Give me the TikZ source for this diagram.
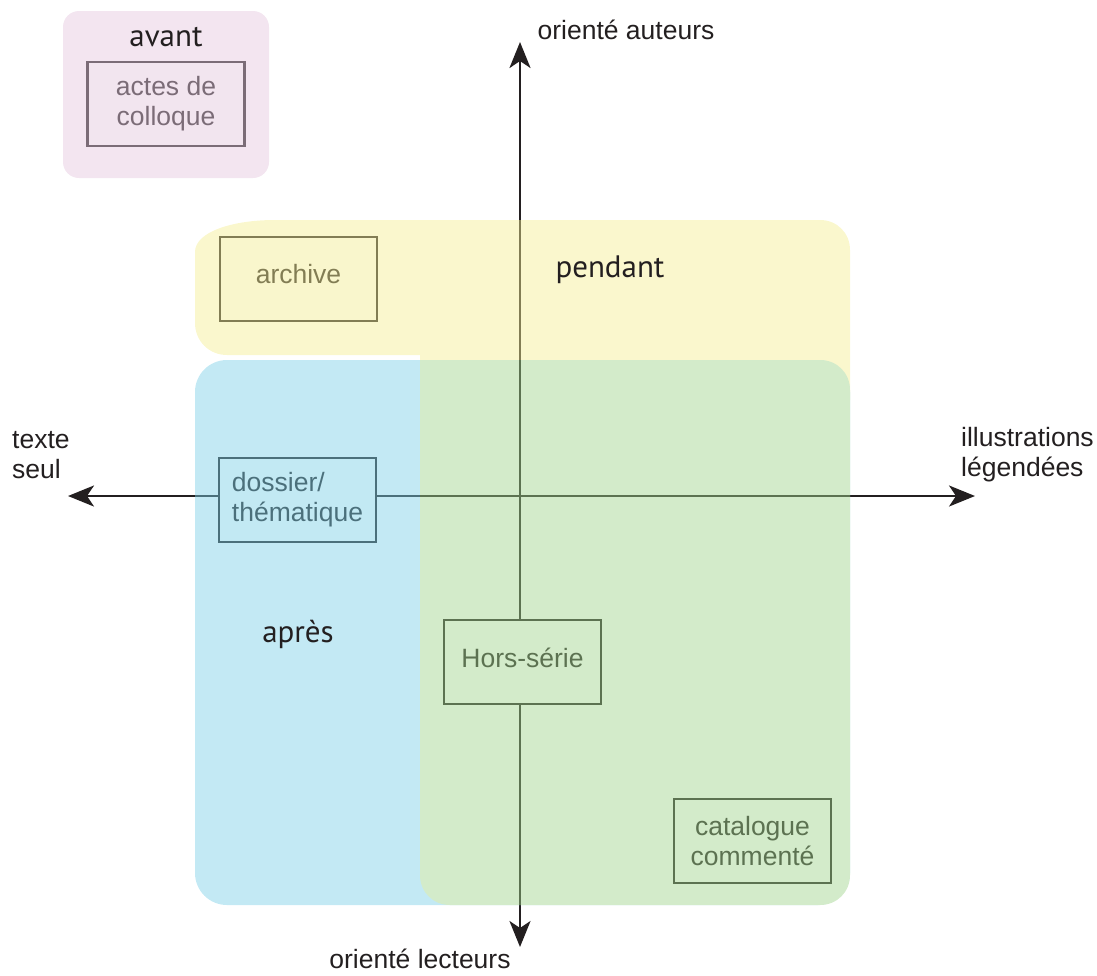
\documentclass[tikz,border=0pt]{standalone}
\usepackage{fontspec}
\setmainfont{Liberation Sans}
\newfontfamily\titlefont{PT Sans}
\usepackage{xcolor}
\usetikzlibrary{arrows.meta,positioning}

\definecolor{avantfill}{RGB}{228,199,222}
\definecolor{pendantfill}{RGB}{244,237,146}
\definecolor{apresfill}{RGB}{124,208,231}
\definecolor{horsfill}{RGB}{160,212,140}
\definecolor{inkblack}{RGB}{35,31,32}

\begin{document}
\begin{tikzpicture}[
    x=1pt, y=-1pt,
    box/.style={rectangle, draw=inkblack, fill=white, line width=2.3pt, minimum width=157pt, minimum height=84pt, align=center, inner sep=0pt, text=inkblack, font=\fontsize{26.5}{30}\selectfont},
    lbl/.style={align=left, inner sep=0pt, text=inkblack, font=\fontsize{26.5}{30}\selectfont},
    title/.style={inner sep=0pt, text=inkblack, font=\titlefont\fontsize{31}{35}\selectfont},
    arrow/.style={{Stealth[length=26pt, width=21pt, inset=7pt]}-{Stealth[length=26pt, width=21pt, inset=7pt]}, line width=2.6pt, draw=inkblack}
]
\useasboundingbox (0,0) rectangle (1097,975);

% Axes
\coordinate (top) at (520,42);
\coordinate (bottom) at (520,947);
\coordinate (left) at (68,496);
\coordinate (right) at (975,496);
\draw[arrow] (bottom) -- (top);
\draw[arrow] (left) -- (right);

% Publications
\node[box] (actes) at (166,104) {actes de\\colloque};
\node[box, text depth=10pt] (archive) at (298.5,279) {archive};
\node[box, align=left] (dossier) at (297.5,500) {dossier/\\thématique};
\node[box, text depth=8pt] (hors) at (522.5,662) {Hors-série};
\node[box] (catalogue) at (752.5,841) {catalogue\\commenté};

% Periods (one translucent layer)
\begin{scope}[opacity=0.46]
\begin{scope}[transparency group]
\fill[avantfill, opacity=1, rounded corners=16pt] (63,11) rectangle (269,178);
\fill[pendantfill, opacity=1] (195,252) .. controls (195,232) and (232,220) .. (275,220) -- (820,220) .. controls (837,220) and (850,233) .. (850,250) -- (850,400) -- (420,400) -- (420,355) -- (227,355) .. controls (209,355) and (195,341) .. (195,323) -- cycle;
\fill[apresfill, opacity=1, rounded corners=32pt] (195,360) rectangle (850,905);
\fill[horsfill, opacity=1] (420,360) -- (820,360) .. controls (837,360) and (850,373) .. (850,390) -- (850,875) .. controls (850,892) and (837,905) .. (820,905) -- (450,905) .. controls (433,905) and (420,892) .. (420,875) -- cycle;
\end{scope}
\end{scope}

% Period names
\node[title] (avant) at (166,37) {avant};
\node[title] (pendant) at (610,270) {pendant};
\node[title] (apres) at (298,634) {après};

% Axis labels
\node[lbl] (auteurs) at (626,30) {orienté auteurs};
\node[lbl] (lecteurs) at (420,959) {orienté lecteurs};
\node[lbl, anchor=west] (texte) at (12,455) {texte\\seul};
\node[lbl, anchor=west] (illus) at (961,455) {illustrations\\légendées};

\end{tikzpicture}
\end{document}
